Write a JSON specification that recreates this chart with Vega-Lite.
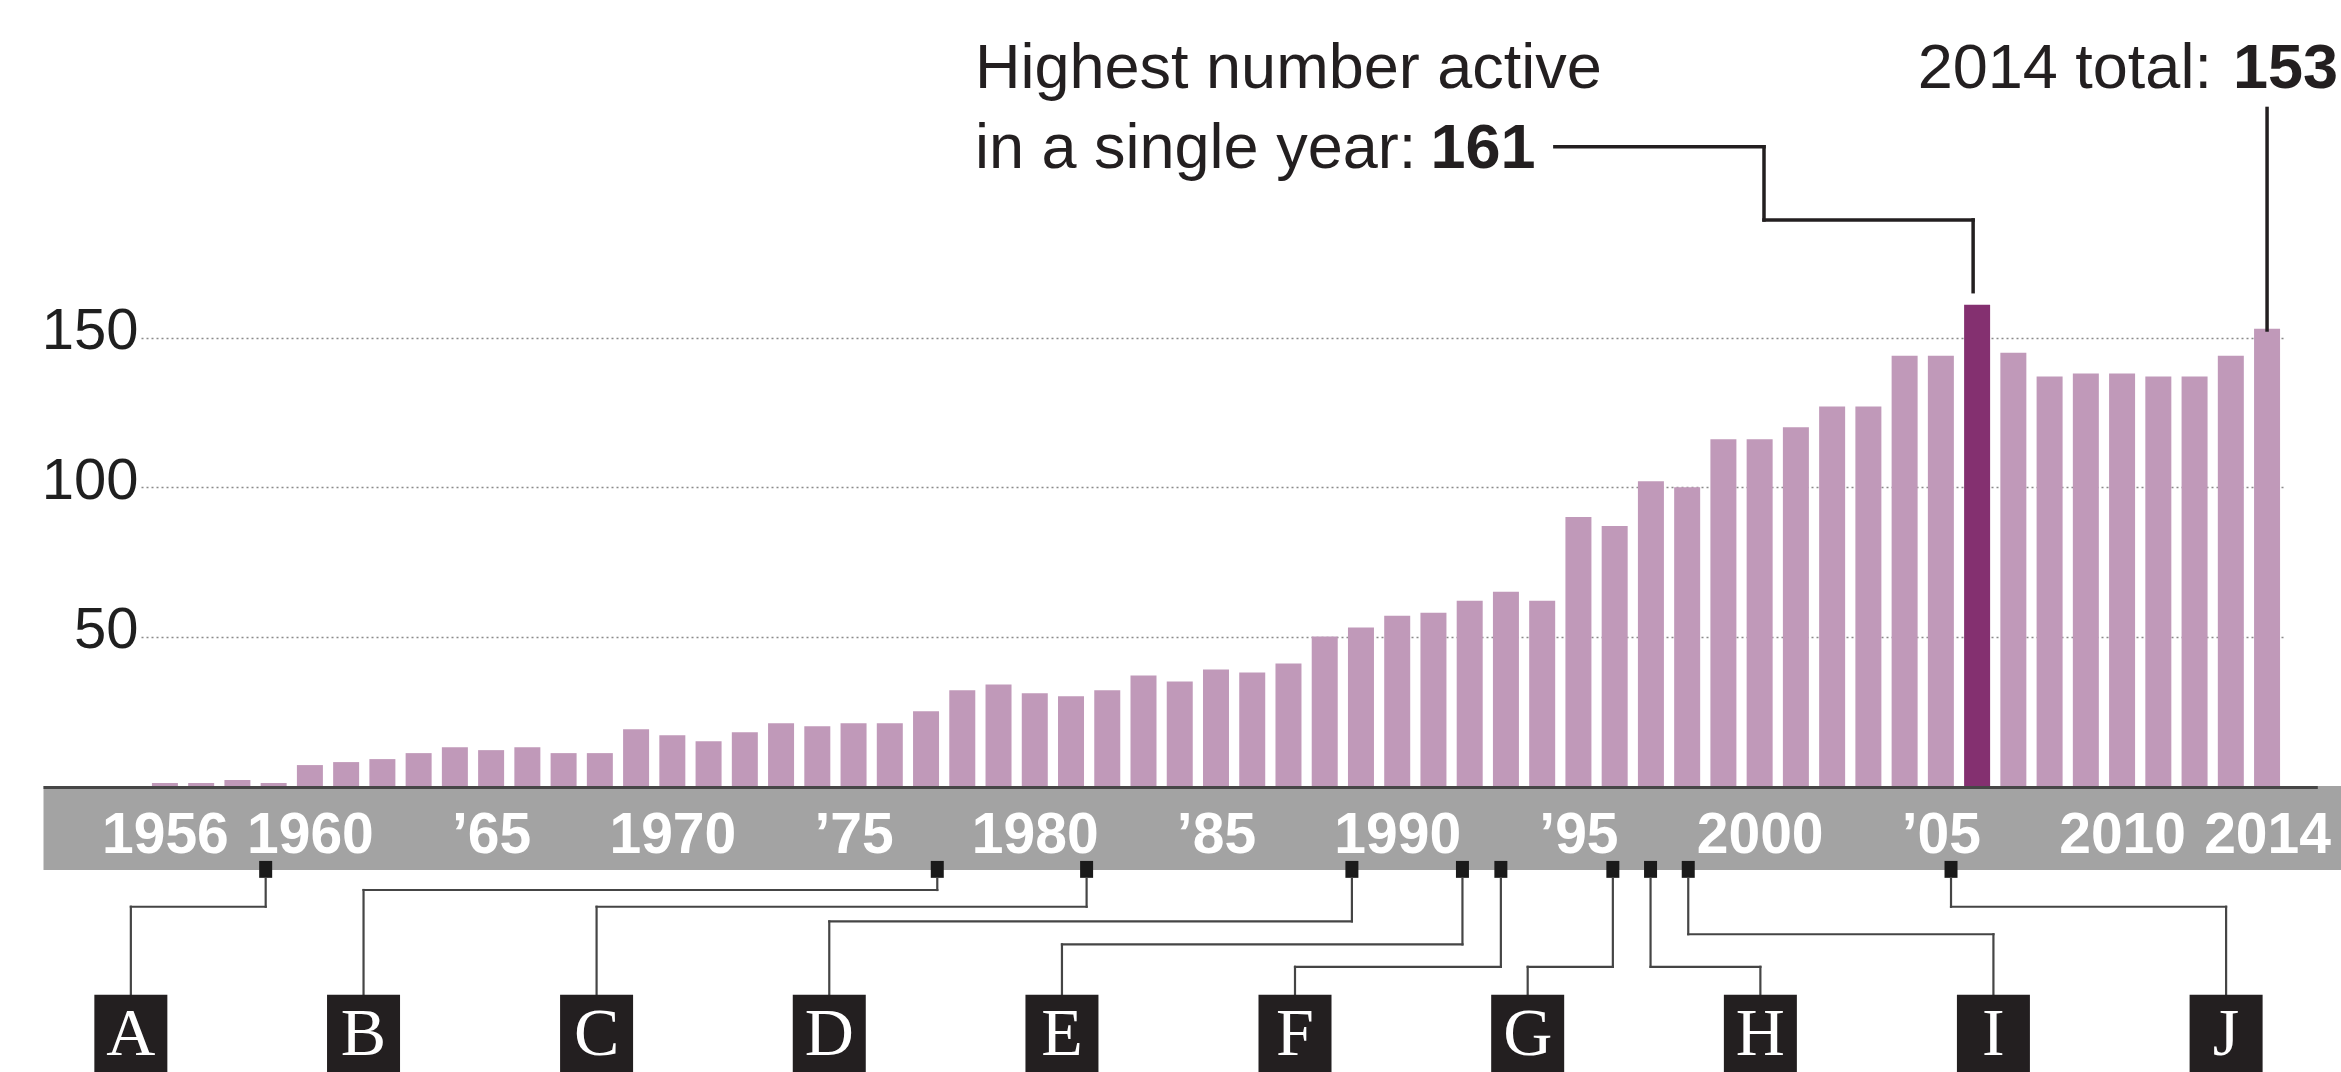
{
  "$schema": "https://vega.github.io/schema/vega-lite/v6.json",
  "width": 2144,
  "height": 786,
  "autosize": {"type": "none"},
  "padding": {"left": 141, "top": 0, "right": 56, "bottom": 286},
  "background": "white",
  "config": {"view": {"stroke": null}, "font": "Liberation Sans"},
  "data": {"values": [
    {"year": 1956, "count": 1}, {"year": 1957, "count": 1}, {"year": 1958, "count": 2}, {"year": 1959, "count": 1},
    {"year": 1960, "count": 7}, {"year": 1961, "count": 8}, {"year": 1962, "count": 9}, {"year": 1963, "count": 11},
    {"year": 1964, "count": 13}, {"year": 1965, "count": 12}, {"year": 1966, "count": 13}, {"year": 1967, "count": 11},
    {"year": 1968, "count": 11}, {"year": 1969, "count": 19}, {"year": 1970, "count": 17}, {"year": 1971, "count": 15},
    {"year": 1972, "count": 18}, {"year": 1973, "count": 21}, {"year": 1974, "count": 20}, {"year": 1975, "count": 21},
    {"year": 1976, "count": 21}, {"year": 1977, "count": 25}, {"year": 1978, "count": 32}, {"year": 1979, "count": 34},
    {"year": 1980, "count": 31}, {"year": 1981, "count": 30}, {"year": 1982, "count": 32}, {"year": 1983, "count": 37},
    {"year": 1984, "count": 35}, {"year": 1985, "count": 39}, {"year": 1986, "count": 38}, {"year": 1987, "count": 41},
    {"year": 1988, "count": 50}, {"year": 1989, "count": 53}, {"year": 1990, "count": 57}, {"year": 1991, "count": 58},
    {"year": 1992, "count": 62}, {"year": 1993, "count": 65}, {"year": 1994, "count": 62}, {"year": 1995, "count": 90},
    {"year": 1996, "count": 87}, {"year": 1997, "count": 102}, {"year": 1998, "count": 100}, {"year": 1999, "count": 116},
    {"year": 2000, "count": 116}, {"year": 2001, "count": 120}, {"year": 2002, "count": 127}, {"year": 2003, "count": 127},
    {"year": 2004, "count": 144}, {"year": 2005, "count": 144}, {"year": 2006, "count": 161}, {"year": 2007, "count": 145},
    {"year": 2008, "count": 137}, {"year": 2009, "count": 138}, {"year": 2010, "count": 138}, {"year": 2011, "count": 137},
    {"year": 2012, "count": 137}, {"year": 2013, "count": 144}, {"year": 2014, "count": 153}
  ]},
  "datasets": {
    "events": [
      {"letter": "A", "date": 1958.78, "slot": 1955.06, "level": -40.4},
      {"letter": "B", "date": 1977.31, "slot": 1961.48, "level": -34.8},
      {"letter": "C", "date": 1981.43, "slot": 1967.91, "level": -40.4},
      {"letter": "D", "date": 1988.75, "slot": 1974.33, "level": -45.3},
      {"letter": "E", "date": 1991.8, "slot": 1980.75, "level": -53.0},
      {"letter": "F", "date": 1992.86, "slot": 1987.18, "level": -60.5},
      {"letter": "G", "date": 1995.95, "slot": 1993.6, "level": -60.5},
      {"letter": "H", "date": 1996.99, "slot": 2000.02, "level": -60.5},
      {"letter": "I", "date": 1998.03, "slot": 2006.45, "level": -49.6},
      {"letter": "J", "date": 2005.28, "slot": 2012.87, "level": -40.4}
    ]
  },
  "layer": [
    {
      "data": {"values": [{}]},
      "mark": {"type": "rect", "color": "#a3a3a3"},
      "encoding": {
        "x": {"datum": 1952.65, "type": "quantitative"},
        "x2": {"datum": 2016.5},
        "y": {"datum": 0, "type": "quantitative"},
        "y2": {"datum": -28.1}
      }
    },
    {
      "mark": {"type": "bar", "orient": "vertical", "size": 26},
      "encoding": {
        "x": {
          "field": "year", "type": "quantitative",
          "scale": {"domain": [1955.478, 2014.357], "nice": false, "zero": false},
          "axis": {
            "title": null, "orient": "bottom", "domain": false, "ticks": false, "tickSize": 0, "grid": false,
            "values": [1956, 1960, 1965, 1970, 1975, 1980, 1985, 1990, 1995, 2000, 2005, 2010, 2014],
            "format": "d",
            "labelExpr": "datum.value % 10 == 5 ? '’' + substring(datum.label, 2) : datum.label",
            "labelFont": "Liberation Sans", "labelFontSize": 57, "labelFontWeight": "bold", "labelColor": "#ffffff",
            "labelPadding": 66, "labelBaseline": "alphabetic", "labelAlign": "center",
            "labelFlush": false, "labelOverlap": false, "labelBound": false, "zindex": 2
          }
        },
        "y": {
          "field": "count", "type": "quantitative",
          "scale": {"domain": [0, 263], "nice": false, "zero": false},
          "axis": {
            "title": null, "domain": false, "ticks": false, "tickSize": 0,
            "values": [50, 100, 150], "grid": true, "gridColor": "#8a8a8a", "gridDash": [2, 3], "gridWidth": 1.5,
            "labelFont": "Liberation Sans", "labelFontSize": 58, "labelColor": "#1f1f1f",
            "labelPadding": 3, "labelBaseline": "alphabetic", "labelOffset": 11, "zindex": 0
          }
        },
        "color": {"condition": {"test": "datum.year == 2006", "value": "#843070"}, "value": "#c099b9"}
      }
    },
    {
      "data": {"values": [{}]},
      "mark": {"type": "rule", "color": "#464646", "strokeWidth": 3},
      "encoding": {
        "x": {"datum": 1952.65, "type": "quantitative"},
        "x2": {"datum": 2015.4},
        "y": {"datum": -0.5, "type": "quantitative"}
      }
    },
    {
      "data": {"name": "events"},
      "mark": {"type": "point", "filled": true, "opacity": 1, "color": "#1a1a1a", "shape": "M-1,-1.3H1V1.3H-1Z", "size": 169, "strokeWidth": 0},
      "encoding": {
        "x": {"field": "date", "type": "quantitative"},
        "y": {"datum": -27.9, "type": "quantitative"}
      }
    },
    {
      "data": {"name": "events"},
      "mark": {"type": "rule", "color": "#454545", "strokeWidth": 2.2, "strokeCap": "square"},
      "encoding": {
        "x": {"field": "date", "type": "quantitative"},
        "y": {"field": "level", "type": "quantitative"},
        "y2": {"datum": -30.8}
      }
    },
    {
      "data": {"name": "events"},
      "mark": {"type": "rule", "color": "#454545", "strokeWidth": 2.2, "strokeCap": "square"},
      "encoding": {
        "x": {"field": "date", "type": "quantitative"},
        "x2": {"field": "slot"},
        "y": {"field": "level", "type": "quantitative"}
      }
    },
    {
      "data": {"name": "events"},
      "mark": {"type": "rule", "color": "#454545", "strokeWidth": 2.2, "strokeCap": "square"},
      "encoding": {
        "x": {"field": "slot", "type": "quantitative"},
        "y": {"field": "level", "type": "quantitative"},
        "y2": {"datum": -69.9}
      }
    },
    {
      "data": {"name": "events"},
      "mark": {"type": "point", "filled": true, "opacity": 1, "color": "#231f20", "shape": "M-1,-1H1V1.3H-1Z", "size": 5329, "strokeWidth": 0},
      "encoding": {
        "x": {"field": "slot", "type": "quantitative"},
        "y": {"datum": -82.1, "type": "quantitative"}
      }
    },
    {
      "data": {"name": "events"},
      "mark": {"type": "text", "font": "Liberation Serif", "fontSize": 68, "color": "#ffffff", "align": "center", "baseline": "alphabetic"},
      "encoding": {
        "x": {"field": "slot", "type": "quantitative"},
        "y": {"datum": -90.0, "type": "quantitative"},
        "text": {"field": "letter"}
      }
    },
    {
      "data": {"values": [{}]},
      "mark": {"type": "text", "text": "Highest number active", "fontSize": 63, "color": "#231f20", "align": "left", "baseline": "alphabetic"},
      "encoding": {"x": {"datum": 1978.35, "type": "quantitative"}, "y": {"datum": 233.4, "type": "quantitative"}}
    },
    {
      "data": {"values": [{}]},
      "mark": {"type": "text", "text": "in a single year:", "fontSize": 63, "color": "#231f20", "align": "left", "baseline": "alphabetic"},
      "encoding": {"x": {"datum": 1978.35, "type": "quantitative"}, "y": {"datum": 206.7, "type": "quantitative"}}
    },
    {
      "data": {"values": [{}]},
      "mark": {"type": "text", "text": "161", "fontSize": 63, "fontWeight": "bold", "color": "#231f20", "align": "right", "baseline": "alphabetic"},
      "encoding": {"x": {"datum": 1993.82, "type": "quantitative"}, "y": {"datum": 206.7, "type": "quantitative"}}
    },
    {
      "data": {"values": [{}]},
      "mark": {"type": "text", "text": "2014 total:", "fontSize": 63, "color": "#231f20", "align": "left", "baseline": "alphabetic"},
      "encoding": {"x": {"datum": 2004.36, "type": "quantitative"}, "y": {"datum": 233.4, "type": "quantitative"}}
    },
    {
      "data": {"values": [{}]},
      "mark": {"type": "text", "text": "153", "fontSize": 63, "fontWeight": "bold", "color": "#231f20", "align": "left", "baseline": "alphabetic"},
      "encoding": {"x": {"datum": 2013.06, "type": "quantitative"}, "y": {"datum": 233.4, "type": "quantitative"}}
    },
    {
      "data": {"values": [{}]},
      "mark": {"type": "rule", "color": "#231f20", "strokeWidth": 3.5, "strokeCap": "square"},
      "encoding": {"x": {"datum": 1994.35, "type": "quantitative"}, "x2": {"datum": 2000.12}, "y": {"datum": 213.9, "type": "quantitative"}}
    },
    {
      "data": {"values": [{}]},
      "mark": {"type": "rule", "color": "#231f20", "strokeWidth": 3.5, "strokeCap": "square"},
      "encoding": {"x": {"datum": 2000.12, "type": "quantitative"}, "y": {"datum": 213.9, "type": "quantitative"}, "y2": {"datum": 189.4}}
    },
    {
      "data": {"values": [{}]},
      "mark": {"type": "rule", "color": "#231f20", "strokeWidth": 3.5, "strokeCap": "square"},
      "encoding": {"x": {"datum": 2000.12, "type": "quantitative"}, "x2": {"datum": 2005.89}, "y": {"datum": 189.4, "type": "quantitative"}}
    },
    {
      "data": {"values": [{}]},
      "mark": {"type": "rule", "color": "#231f20", "strokeWidth": 3.5, "strokeCap": "square"},
      "encoding": {"x": {"datum": 2005.89, "type": "quantitative"}, "y": {"datum": 189.4, "type": "quantitative"}, "y2": {"datum": 165.4}}
    },
    {
      "data": {"values": [{}]},
      "mark": {"type": "rule", "color": "#231f20", "strokeWidth": 3.5},
      "encoding": {"x": {"datum": 2014, "type": "quantitative"}, "y": {"datum": 227.3, "type": "quantitative"}, "y2": {"datum": 152}}
    }
  ]
}
